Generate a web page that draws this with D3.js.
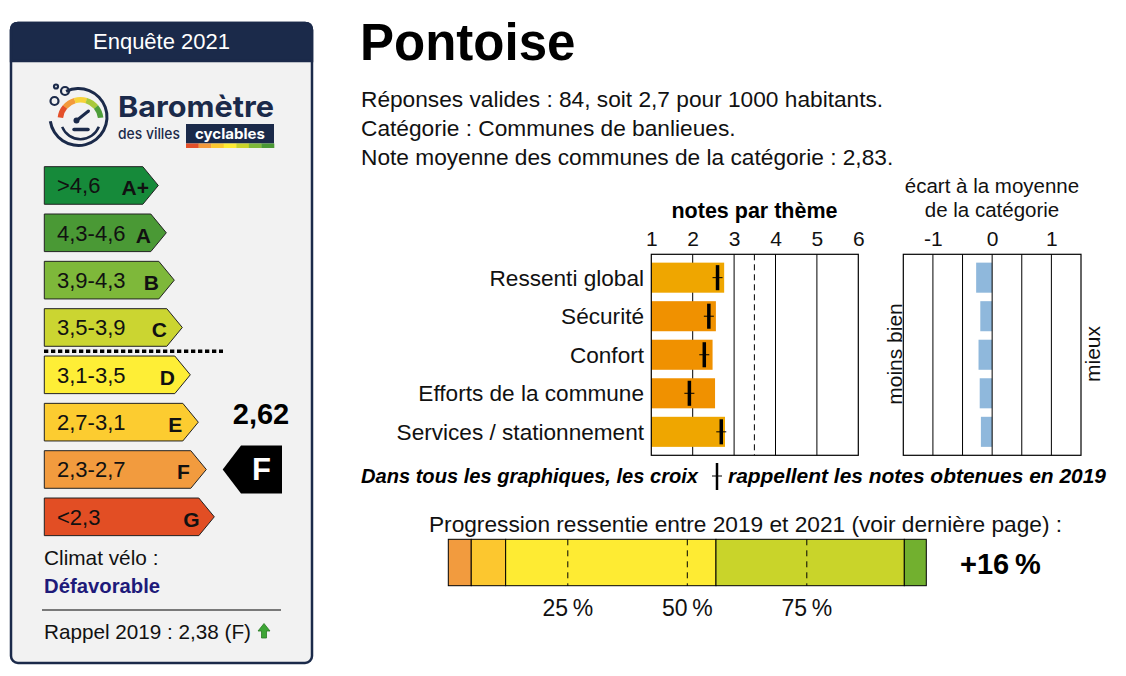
<!DOCTYPE html>
<html>
<head>
<meta charset="utf-8">
<script src="https://cdn.jsdelivr.net/npm/d3@7"></script>
<style>
  body { margin: 0; background: #fff; }
  svg { display: block; font-family: "Liberation Sans", Arial, sans-serif; }
</style>
</head>
<body>
<div id="chart"></div>
<script>
// ---- data ----
var themes = ["Ressenti global", "Sécurité", "Confort", "Efforts de la commune", "Services / stationnement"];
var notes2021 = [2.76, 2.56, 2.48, 2.54, 2.78];
var notes2019 = [2.60, 2.39, 2.28, 1.92, 2.69];
var ecarts = [-0.27, -0.20, -0.23, -0.21, -0.19];
var noteTicks = [1, 2, 3, 4, 5, 6];
var ecartTicks = [-1, 0, 1];
var noteRepere = 3.49;

var grades = ["A+", "A", "B", "C", "D", "E", "F", "G"];
var gradeRanges = [">4,6", "4,3-4,6", "3,9-4,3", "3,5-3,9", "3,1-3,5", "2,7-3,1", "2,3-2,7", "<2,3"];
var gradeColors = ["#168a3a", "#4a9935", "#7eb83a", "#cbd531", "#feee36", "#fccc30", "#f29b3e", "#e24e24"];

var progressionParts = [4.8, 7.2, 44.0, 39.4, 4.6];
var progressionColors = ["#f29b3e", "#fcc72f", "#feeb33", "#c9d42a", "#72b02f"];
var progressionTicks = [25, 50, 75];

var ville = "Pontoise";
var noteVille = "2,62";
var gradeVille = "F";

var navy = "#1b2a4a";

var svg = d3.select("#chart").append("svg")
    .attr("width", 1126)
    .attr("height", 676);

// ================= left panel =================
var panel = svg.append("g");

panel.append("rect")
    .attr("x", 11).attr("y", 23).attr("width", 301).attr("height", 640)
    .attr("rx", 7)
    .attr("fill", "#f2f2f2")
    .attr("stroke", navy).attr("stroke-width", 2.5);

panel.append("path")
    .attr("d", "M11,61 V30 Q11,23 18,23 H305 Q312,23 312,30 V61 Z")
    .attr("fill", navy).attr("stroke", navy).attr("stroke-width", 2.5);

panel.append("text")
    .attr("x", 161.5).attr("y", 48.5)
    .attr("text-anchor", "middle")
    .attr("font-size", 22).attr("fill", "#fff")
    .text("Enquête 2021");

// logo
var logo = panel.append("g");
logo.append("path")
    .attr("transform", "translate(78.5,117)")
    .attr("d", d3.arc()({innerRadius: 27, outerRadius: 30, startAngle: -0.45, endAngle: 2 * Math.PI - 1.72}))
    .attr("fill", navy);
logo.append("path")
    .attr("transform", "translate(80.5,119.5)")
    .attr("d", d3.arc()({innerRadius: 18.5, outerRadius: 21, startAngle: 1.95, endAngle: 4.33}))
    .attr("fill", navy);

var gaugeCols = ["#e4502a", "#f39a3c", "#f7d33a", "#a9c93a", "#4e9e3a"];
var gaugeAng = d3.scaleLinear().domain([0, gaugeCols.length]).range([-1.45, 1.45]);
logo.selectAll(".gauge")
    .data(gaugeCols)
    .enter().append("path")
    .attr("transform", "translate(80.5,120)")
    .attr("d", function (c, i) {
        return d3.arc()({innerRadius: 17.5, outerRadius: 23, startAngle: gaugeAng(i), endAngle: gaugeAng(i + 1) + 0.01});
    })
    .attr("fill", function (c) { return c; });

logo.append("line")
    .attr("x1", 76).attr("y1", 121).attr("x2", 88.5).attr("y2", 111)
    .attr("stroke", navy).attr("stroke-width", 3).attr("stroke-linecap", "round");
logo.append("circle").attr("cx", 76.5).attr("cy", 120.5).attr("r", 3).attr("fill", navy);
logo.append("line")
    .attr("x1", 74).attr("y1", 129.5).attr("x2", 88).attr("y2", 129.5)
    .attr("stroke", navy).attr("stroke-width", 3.5).attr("stroke-linecap", "round");

[[56, 86.5, 2], [65, 91, 4], [54.5, 101, 4]].forEach(function (b) {
    logo.append("circle").attr("cx", b[0]).attr("cy", b[1]).attr("r", b[2])
        .attr("fill", "none").attr("stroke", navy).attr("stroke-width", 2.2);
});

logo.append("text")
    .attr("x", 118).attr("y", 117)
    .attr("font-family", "Inter, 'Open Sans', sans-serif")
    .attr("font-weight", 700).attr("font-size", 29)
    .attr("fill", navy)
    .attr("textLength", 156).attr("lengthAdjust", "spacingAndGlyphs")
    .text("Baromètre");
logo.append("text")
    .attr("x", 118).attr("y", 138.5)
    .attr("font-family", "Inter, 'Open Sans', sans-serif")
    .attr("font-weight", 500).attr("font-size", 15)
    .attr("fill", navy)
    .attr("textLength", 62).attr("lengthAdjust", "spacingAndGlyphs")
    .text("des villes");
logo.append("rect")
    .attr("x", 186).attr("y", 124).attr("width", 88).attr("height", 19.5)
    .attr("fill", navy);
logo.append("text")
    .attr("x", 230).attr("y", 138.5)
    .attr("text-anchor", "middle")
    .attr("font-family", "Inter, 'Open Sans', sans-serif")
    .attr("font-weight", 700).attr("font-size", 14.5)
    .attr("fill", "#fff")
    .attr("textLength", 70).attr("lengthAdjust", "spacingAndGlyphs")
    .text("cyclables");
var stripCols = ["#e4502a", "#f39a3c", "#fbc72f", "#feeb33", "#c9d42a", "#7eb83a", "#4a9935"];
var stripX = d3.scaleLinear().domain([0, stripCols.length]).range([186, 274]);
logo.selectAll(".strip")
    .data(stripCols)
    .enter().append("rect")
    .attr("x", function (c, i) { return stripX(i); })
    .attr("y", 143.5)
    .attr("width", stripX(1) - stripX(0) + 0.3)
    .attr("height", 4.5)
    .attr("fill", function (c) { return c; });

// energy-label arrows
var gy = d3.scaleBand().domain(grades).range([161.8, 540.5]).paddingInner(0.2056).paddingOuter(0.1028);
var gpoint = d3.scaleLinear().domain([0, grades.length - 1]).range([158.3, 214.3]);
var gradeLeft = 44.3;

var gg = panel.selectAll(".grade")
    .data(grades)
    .enter().append("g")
    .attr("class", "grade");

gg.append("path")
    .attr("d", function (g, i) {
        var t = gy(g), h = gy.bandwidth(), p = gpoint(i), b = p - 15.5;
        return "M" + gradeLeft + "," + t + " H" + b + " L" + p + "," + (t + h / 2) +
            " L" + b + "," + (t + h) + " H" + gradeLeft + " Z";
    })
    .attr("fill", function (g, i) { return gradeColors[i]; })
    .attr("stroke", "#222").attr("stroke-width", 1);

gg.append("text")
    .attr("x", 57)
    .attr("y", function (g) { return gy(g) + 26.8; })
    .attr("font-size", 22)
    .attr("fill", "#111")
    .text(function (g, i) { return gradeRanges[i]; });

gg.append("text")
    .attr("x", function (g, i) { return gpoint(i) - 23; })
    .attr("y", function (g) { return gy(g) + 28.5; })
    .attr("text-anchor", "middle")
    .attr("font-size", 21).attr("font-weight", "bold")
    .attr("fill", "#111")
    .text(function (g) { return g; });

// dotted separator between C and D
var sepY = (gy("C") + gy.bandwidth() + gy("D")) / 2;
panel.append("line")
    .attr("x1", 44).attr("x2", 223)
    .attr("y1", sepY).attr("y2", sepY)
    .attr("stroke", "#000").attr("stroke-width", 3.5)
    .attr("stroke-dasharray", "4.3,2.7");

// city marker
var markY = gy(gradeVille) + gy.bandwidth() / 2;
panel.append("text")
    .attr("x", 261).attr("y", 424)
    .attr("text-anchor", "middle")
    .attr("font-size", 29).attr("font-weight", "bold")
    .text(noteVille);
panel.append("path")
    .attr("d", "M222.7," + markY + " L241," + (markY - 24) + " H282 V" + (markY + 24) + " H241 Z")
    .attr("fill", "#000");
panel.append("text")
    .attr("x", 261.5).attr("y", markY + 11)
    .attr("text-anchor", "middle")
    .attr("font-size", 31).attr("font-weight", "bold")
    .attr("fill", "#fff")
    .text(gradeVille);

panel.append("text")
    .attr("x", 44).attr("y", 565)
    .attr("font-size", 20.8).attr("fill", "#111")
    .text("Climat vélo :");
panel.append("text")
    .attr("x", 44).attr("y", 593)
    .attr("font-size", 20.3).attr("font-weight", "bold")
    .attr("fill", "#1e1a7a")
    .text("Défavorable");
panel.append("line")
    .attr("x1", 42).attr("x2", 281).attr("y1", 610).attr("y2", 610)
    .attr("stroke", "#000").attr("stroke-width", 1);
panel.append("text")
    .attr("x", 44).attr("y", 638.5)
    .attr("font-size", 20.7).attr("fill", "#111")
    .text("Rappel 2019 : 2,38 (F)");
panel.append("path")
    .attr("d", "M258,631 L264,623.5 L270,631 H266.5 V638 H261.5 V631 Z")
    .attr("fill", "#3da535").attr("stroke", "#2a7a25").attr("stroke-width", 0.8);

// ================= header text =================
svg.append("text")
    .attr("x", 360).attr("y", 60)
    .attr("font-size", 51).attr("font-weight", "bold")
    .text(ville);

var infos = [
    "Réponses valides : 84, soit 2,7 pour 1000 habitants.",
    "Catégorie : Communes de banlieues.",
    "Note moyenne des communes de la catégorie : 2,83."
];
svg.selectAll(".info")
    .data(infos)
    .enter().append("text")
    .attr("x", 361)
    .attr("y", function (d, i) { return 106.5 + i * 29; })
    .attr("font-size", 22.7).attr("fill", "#111")
    .text(function (d) { return d; });

// ================= notes par thème =================
var x = d3.scaleLinear().domain([1, 6]).range([651.3, 858.3]);
var y = d3.scaleBand().domain(themes).range([258.4, 451.1]).paddingInner(0.22).paddingOuter(0.11);
var boxTop = 254.3, boxBottom = 455.3;
var barColor = d3.scaleThreshold().domain([2.7]).range(["#f09100", "#efa600"]);

var theme = svg.append("g");

theme.append("text")
    .attr("x", 754.5).attr("y", 218)
    .attr("text-anchor", "middle")
    .attr("font-size", 21.5).attr("font-weight", "bold")
    .text("notes par thème");

theme.append("g")
    .attr("transform", "translate(0," + boxTop + ")")
    .call(d3.axisTop(x).tickValues(noteTicks).tickSize(0).tickPadding(8).tickFormat(d3.format("d")))
    .call(function (g) { g.select(".domain").remove(); })
    .selectAll("text")
    .attr("font-size", 21).attr("fill", "#111")
    .attr("font-family", "'Liberation Sans', Arial, sans-serif");

theme.selectAll(".grid")
    .data(noteTicks.slice(1, -1))
    .enter().append("line")
    .attr("x1", function (d) { return x(d); }).attr("x2", function (d) { return x(d); })
    .attr("y1", boxTop).attr("y2", boxBottom)
    .attr("stroke", "#000").attr("stroke-width", 1);

theme.append("line")
    .attr("x1", x(noteRepere)).attr("x2", x(noteRepere))
    .attr("y1", boxTop).attr("y2", boxBottom)
    .attr("stroke", "#000").attr("stroke-width", 1)
    .attr("stroke-dasharray", "6,4");

theme.selectAll(".bar")
    .data(themes)
    .enter().append("rect")
    .attr("x", x(1))
    .attr("y", function (d) { return y(d); })
    .attr("width", function (d, i) { return x(notes2021[i]) - x(1); })
    .attr("height", y.bandwidth())
    .attr("fill", function (d, i) { return barColor(notes2021[i]); });

theme.append("rect")
    .attr("x", x(1)).attr("y", boxTop)
    .attr("width", x(6) - x(1)).attr("height", boxBottom - boxTop)
    .attr("fill", "none").attr("stroke", "#000").attr("stroke-width", 1.2);

var cross = theme.selectAll(".cross")
    .data(themes)
    .enter().append("g");
cross.append("line")
    .attr("x1", function (d, i) { return x(notes2019[i]); })
    .attr("x2", function (d, i) { return x(notes2019[i]); })
    .attr("y1", function (d) { return y(d) + 2.5; })
    .attr("y2", function (d) { return y(d) + y.bandwidth() - 2.5; })
    .attr("stroke", "#000").attr("stroke-width", 3.5);
cross.append("line")
    .attr("x1", function (d, i) { return x(notes2019[i]) - 5; })
    .attr("x2", function (d, i) { return x(notes2019[i]) + 5; })
    .attr("y1", function (d) { return y(d) + y.bandwidth() / 2; })
    .attr("y2", function (d) { return y(d) + y.bandwidth() / 2; })
    .attr("stroke", "#000").attr("stroke-width", 1);

theme.selectAll(".label")
    .data(themes)
    .enter().append("text")
    .attr("x", 644)
    .attr("y", function (d) { return y(d) + y.bandwidth() / 2 + 8; })
    .attr("text-anchor", "end")
    .attr("font-size", 22.6).attr("fill", "#111")
    .text(function (d) { return d; });

// ================= écart à la moyenne =================
var xe = d3.scaleLinear().domain([-1.5, 1.5]).range([903.3, 1081]);
var ecart = svg.append("g");

ecart.append("text")
    .attr("x", 992).attr("y", 193)
    .attr("text-anchor", "middle")
    .attr("font-size", 20.5).attr("fill", "#111")
    .text("écart à la moyenne");
ecart.append("text")
    .attr("x", 992).attr("y", 217)
    .attr("text-anchor", "middle")
    .attr("font-size", 20.5).attr("fill", "#111")
    .text("de la catégorie");

ecart.append("g")
    .attr("transform", "translate(0," + boxTop + ")")
    .call(d3.axisTop(xe).tickValues(ecartTicks).tickSize(0).tickPadding(8).tickFormat(function (d) { return String(d); }))
    .call(function (g) { g.select(".domain").remove(); })
    .selectAll("text")
    .attr("font-size", 21).attr("fill", "#111")
    .attr("font-family", "'Liberation Sans', Arial, sans-serif");

ecart.selectAll(".bar")
    .data(themes)
    .enter().append("rect")
    .attr("x", function (d, i) { return xe(Math.min(0, ecarts[i])); })
    .attr("y", function (d) { return y(d); })
    .attr("width", function (d, i) { return Math.abs(xe(ecarts[i]) - xe(0)); })
    .attr("height", y.bandwidth())
    .attr("fill", "#8fb8dc");

ecart.selectAll(".grid")
    .data(xe.ticks(6).slice(1, -1))
    .enter().append("line")
    .attr("x1", function (d) { return xe(d); }).attr("x2", function (d) { return xe(d); })
    .attr("y1", boxTop).attr("y2", boxBottom)
    .attr("stroke", "#000").attr("stroke-width", 1);

ecart.append("rect")
    .attr("x", xe(-1.5)).attr("y", boxTop)
    .attr("width", xe(1.5) - xe(-1.5)).attr("height", boxBottom - boxTop)
    .attr("fill", "none").attr("stroke", "#000").attr("stroke-width", 1.2);

ecart.append("text")
    .attr("transform", "translate(902,354) rotate(-90)")
    .attr("text-anchor", "middle")
    .attr("font-size", 21).attr("fill", "#111")
    .text("moins bien");
ecart.append("text")
    .attr("transform", "translate(1100,354) rotate(-90)")
    .attr("text-anchor", "middle")
    .attr("font-size", 21).attr("fill", "#111")
    .text("mieux");

// ================= note 2019 =================
var note = svg.append("g")
    .attr("font-size", 20).attr("font-weight", "bold").attr("font-style", "italic");
note.append("text")
    .attr("x", 361).attr("y", 483)
    .attr("textLength", 337).attr("lengthAdjust", "spacingAndGlyphs")
    .text("Dans tous les graphiques, les croix");
note.append("text")
    .attr("x", 728).attr("y", 483)
    .attr("textLength", 378).attr("lengthAdjust", "spacingAndGlyphs")
    .text("rappellent les notes obtenues en 2019");
note.append("line")
    .attr("x1", 717).attr("x2", 717).attr("y1", 463).attr("y2", 490)
    .attr("stroke", "#000").attr("stroke-width", 2.5);
note.append("line")
    .attr("x1", 712).attr("x2", 722).attr("y1", 476).attr("y2", 476)
    .attr("stroke", "#000").attr("stroke-width", 1);

// ================= progression =================
var xp = d3.scaleLinear().domain([0, 100]).range([448.3, 926.3]);
var pTop = 539.3, pBottom = 585.7;
var cum = d3.cumsum(progressionParts);
var prog = svg.append("g");

prog.append("text")
    .attr("x", 745.5).attr("y", 532)
    .attr("text-anchor", "middle")
    .attr("font-size", 22.7).attr("fill", "#111")
    .text("Progression ressentie entre 2019 et 2021 (voir dernière page) :");

prog.selectAll(".seg")
    .data(progressionParts)
    .enter().append("rect")
    .attr("x", function (d, i) { return xp(cum[i] - d); })
    .attr("y", pTop)
    .attr("width", function (d) { return xp(d) - xp(0); })
    .attr("height", pBottom - pTop)
    .attr("fill", function (d, i) { return progressionColors[i]; })
    .attr("stroke", "#000").attr("stroke-width", 1);

prog.selectAll(".pdash")
    .data(progressionTicks)
    .enter().append("line")
    .attr("x1", function (d) { return xp(d); }).attr("x2", function (d) { return xp(d); })
    .attr("y1", pTop).attr("y2", pBottom)
    .attr("stroke", "#000").attr("stroke-width", 1)
    .attr("stroke-dasharray", "6,5");

prog.selectAll(".plab")
    .data(progressionTicks)
    .enter().append("text")
    .attr("x", function (d) { return xp(d); })
    .attr("y", 616)
    .attr("text-anchor", "middle")
    .attr("font-size", 23).attr("fill", "#111")
    .text(function (d) { return d + "\u2009%"; });

prog.append("text")
    .attr("x", 960).attr("y", 574)
    .attr("font-size", 29).attr("font-weight", "bold")
    .text("+16\u2009%");
</script>
</body>
</html>
